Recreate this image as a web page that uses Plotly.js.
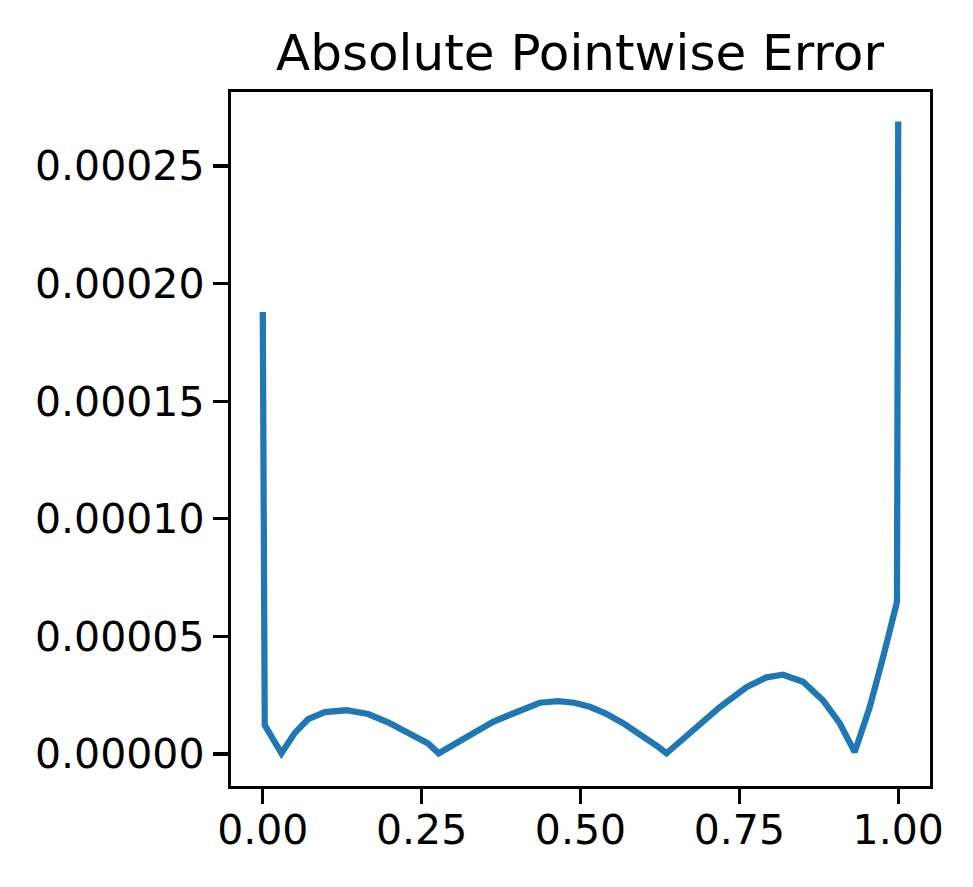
<!DOCTYPE html>
<html>
<head>
<meta charset="utf-8">
<script src="https://cdn.plot.ly/plotly-3.0.1.min.js"></script>
<style>
  html, body { margin: 0; padding: 0; background: #fff; }
  #chart { width: 973px; height: 887px; }
</style>
</head>
<body>
<div id="chart"></div>
<script>
// values
const errX = [0, 0.0005, 0.0031, 0.0294, 0.0504, 0.0713, 0.0976, 0.1317, 0.1657, 0.1972,
              0.2286, 0.2601, 0.2769, 0.3100, 0.3300, 0.3624, 0.3900, 0.4150, 0.4359, 0.4647,
              0.4900, 0.5146, 0.5400, 0.5670, 0.5850, 0.6038, 0.6200, 0.6353, 0.6771, 0.7191,
              0.7611, 0.7926, 0.8187, 0.8502, 0.8817, 0.9079, 0.9315, 0.9552, 0.9760, 0.998, 1.0];
const errY = [0.000188, 0.0000557, 0.0000123, 0.0000003, 0.0000090, 0.0000148, 0.0000178, 0.0000186, 0.0000170, 0.0000135,
              0.0000093, 0.0000045, 0.0000003, 0.0000052, 0.0000085, 0.0000137, 0.0000168, 0.0000194, 0.0000218, 0.0000225,
              0.0000218, 0.0000201, 0.0000172, 0.0000131, 0.0000100, 0.0000067, 0.0000035, 0.0000003, 0.0000100, 0.0000199,
              0.0000284, 0.0000326, 0.0000337, 0.0000307, 0.0000228, 0.0000131, 0.0000008, 0.0000200, 0.0000410, 0.0000646, 0.000269];

const chartTitle = 'Absolute Pointwise Error';

function draw_error() {
    const trace = {
        type: 'scatter',
        mode: 'lines',
        x: errX,
        y: errY,
        line: { color: '#1f77b4', width: 6.25 },
        hoverinfo: 'skip'
    };

    const axisStyle = {
        showline: true,
        mirror: true,
        linecolor: '#000',
        linewidth: 3.3,
        ticks: 'outside',
        ticklen: 15,
        tickwidth: 3.3,
        tickcolor: '#000',
        showgrid: false,
        zeroline: false,
        tickfont: { family: 'DejaVu Sans', size: 41, color: '#000' }
    };

    const layout = {
        width: 973,
        height: 887,
        margin: { l: 231, r: 43, t: 92, b: 101 },
        paper_bgcolor: '#fff',
        plot_bgcolor: '#fff',
        showlegend: false,
        font: { family: 'DejaVu Sans', color: '#000' },
        title: {
            text: chartTitle,
            font: { family: 'DejaVu Sans', size: 50, color: '#000' },
            x: 580 / 973,
            xanchor: 'center',
            xref: 'container',
            yref: 'container',
            y: 1 - 52 / 887,
            yanchor: 'middle'
        },
        xaxis: Object.assign({}, axisStyle, {
            range: [-0.05, 1.05],
            tick0: 0,
            dtick: 0.25,
            tickformat: '.2f',
            ticklabelstandoff: -10
        }),
        yaxis: Object.assign({}, axisStyle, {
            range: [-0.0000136, 0.0002815],
            tick0: 0,
            dtick: 0.00005,
            tickformat: '.5f'
        })
    };

    Plotly.newPlot('chart', [trace], layout, { displayModeBar: false, staticPlot: true });
}

draw_error();
</script>
</body>
</html>
